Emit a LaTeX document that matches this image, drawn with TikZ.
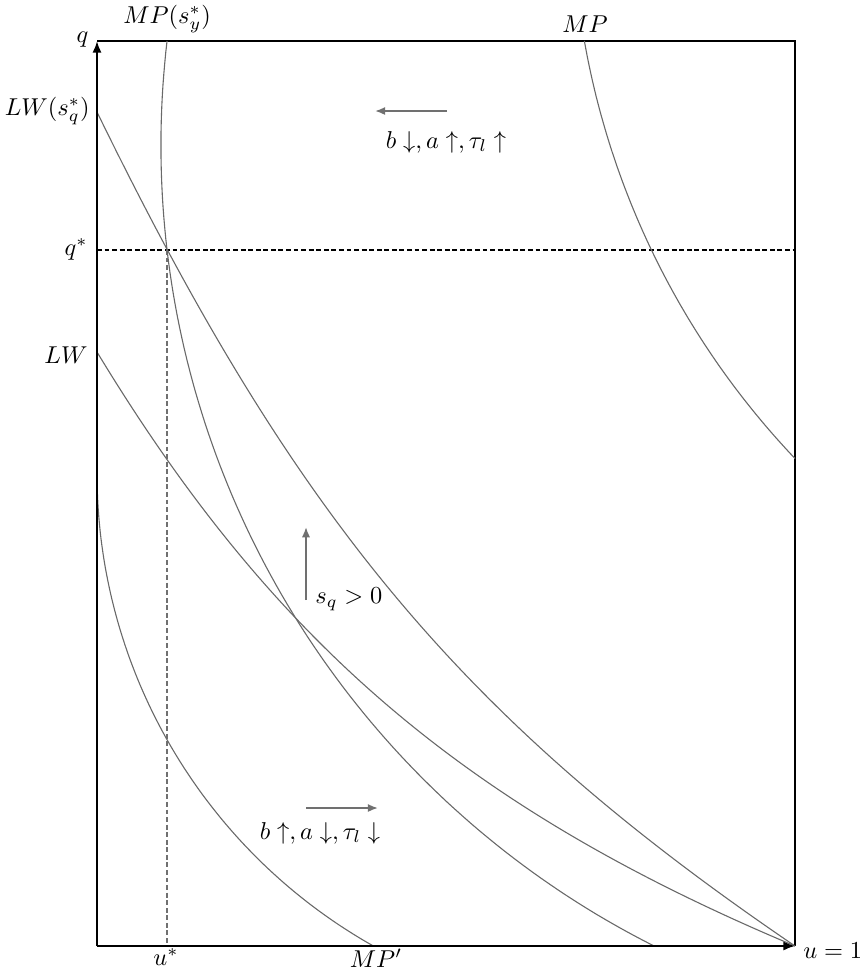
\documentclass[tikz,border=0pt]{standalone}
\usetikzlibrary{arrows.meta}
\definecolor{curvegray}{RGB}{105,105,105}
\definecolor{arrowgray}{RGB}{112,112,112}
\begin{document}
\begin{tikzpicture}[x=0.41pt,y=-0.41pt,
  curve/.style={draw=curvegray, line width=0.45pt},
  axisline/.style={line width=0.85pt, -{Latex[length=4.8pt,width=3.8pt]}},
  boxline/.style={line width=0.55pt},
  guideh/.style={dash pattern=on 2pt off 1.1pt, line width=0.45pt},
  guidev/.style={draw=arrowgray, dash pattern=on 2pt off 1.1pt, line width=0.6pt},
  shiftarrow/.style={draw=arrowgray, line width=0.75pt, -{Latex[length=4.2pt,width=3.4pt]}},
  lbl/.style={inner sep=0pt}]
\useasboundingbox (0,0) rectangle (864,977);
% frame and axes
\coordinate (O) at (97,946);
\coordinate (Ytop) at (97,41);
\coordinate (Xend) at (795,946);
\coordinate (TR) at (795,41);
\draw[boxline] (Ytop) -- (TR) -- (Xend);
% guides
\coordinate (qs) at (97,250);
\coordinate (qsR) at (795,250);
\coordinate (E) at (167,250);
\coordinate (us) at (167,946);
\draw[guideh] (qs) -- (qsR);
\draw[guidev] (E) -- (us);
% curves
% MP(s_y^*)
\draw[curve] plot[domain=-6.695:63.28, samples=100] ({1057.2-896.3*cos(\x)},{145.5+896.3*sin(\x)});
% MP
\draw[curve] plot[domain=10.01:43.53, samples=60] ({1383-811*cos(\x)},{-100+811*sin(\x)});
% MP'
\draw[curve] plot[domain=0:60.58, samples=80] ({640-543*cos(\x)},{473+543*sin(\x)});
% LW(s_q^*)
\coordinate (lws0) at (97,112);
\draw[curve] (lws0) .. controls (296.3,520.7) and (463.9,720.8) .. (Xend);
% LW
\coordinate (lw0) at (97,352);
\draw[curve] (lw0) .. controls (274.1,644.2) and (466.7,808.2) .. (Xend);
% axes on top
\draw[axisline] (O) -- (Ytop);
\draw[axisline] (O) -- (Xend);
% shift arrows
\coordinate (a1s) at (447,111); \coordinate (a1e) at (375,111);
\draw[shiftarrow] (a1s) -- (a1e);
\coordinate (a2s) at (306,600); \coordinate (a2e) at (306,527);
\draw[shiftarrow] (a2s) -- (a2e);
\coordinate (a3s) at (306,808); \coordinate (a3e) at (378,808);
\draw[shiftarrow] (a3s) -- (a3e);
% labels
\node[lbl, anchor=east] (lq) at (89,40) {$q$};
\node[lbl] (lmps) at (167,19) {$MP(s_y^*)$};
\node[lbl] (lmp) at (585,24) {$MP$};
\node[lbl, anchor=east] (llws) at (90,111) {$LW(s_q^*)$};
\node[lbl, anchor=east] (lqs) at (88,249) {$q^*$};
\node[lbl, anchor=east] (llw) at (88,355) {$LW$};
\node[lbl] (lus) at (166,957) {$u^*$};
\node[lbl] (lmpp) at (376,958) {$MP'$};
\node[lbl, anchor=west] (lu1) at (803,951) {$u=1$};
\node[lbl] (t1) at (446,142) {$b\downarrow, a\uparrow, \tau_l\uparrow$};
\node[lbl, anchor=west] (t2) at (315,599) {$s_q>0$};
\node[lbl] (t3) at (320,833) {$b\uparrow, a\downarrow, \tau_l\downarrow$};
\end{tikzpicture}
\end{document}
